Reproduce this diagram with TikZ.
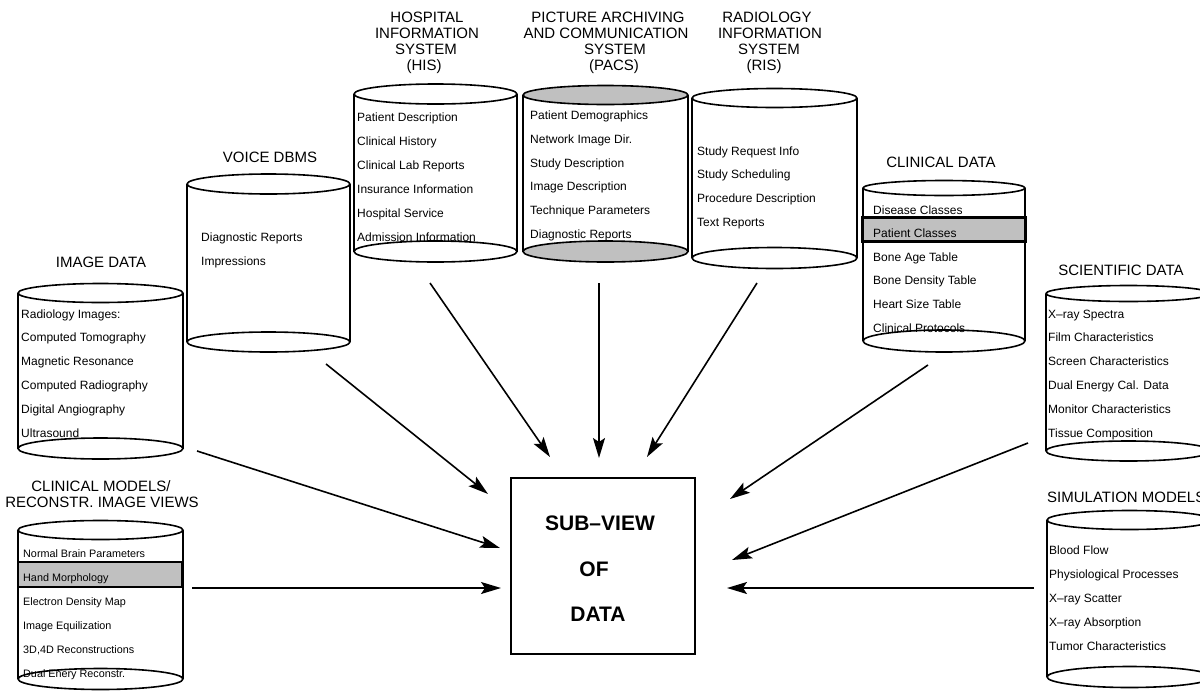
\documentclass[tikz,border=0pt]{standalone}
\usepackage{fontspec}
\setmainfont{Liberation Sans}
\usetikzlibrary{arrows.meta}

\definecolor{capgray}{RGB}{192,192,192}

\tikzset{
  outline/.style={line width=1.6pt, line join=round},
  item/.style={anchor=base west, inner sep=0pt, font=\fontsize{12}{14}\selectfont},
  smallitem/.style={item, font=\fontsize{10.8}{13}\selectfont},
  title/.style={anchor=base, inner sep=0pt, font=\fontsize{15}{17}\selectfont},
  boxtext/.style={anchor=base, inner sep=0pt, font=\fontsize{21}{24}\selectfont\bfseries},
  feed/.style={line width=1.6pt, -{Stealth[length=20pt,width=12pt,inset=4pt]}},
  rowmark/.style={fill=capgray, draw=black},
}

% #1 name, #2 left x, #3 right x, #4 top cap centre y, #5 bottom cap centre y,
% #6 top cap y radius, #7 bottom cap y radius, #8 cap fill
\newcommand\dbcyl[8]{%
  \pgfmathsetmacro\cylcx{(#2+#3)/2}%
  \pgfmathsetmacro\cylrx{(#3-#2)/2}%
  \fill[white] (#2,#4) rectangle (#3,#5);
  \draw[outline, fill=#8] (\cylcx,#5) ellipse [x radius=\cylrx, y radius=#7];
  \draw[outline] (#2,#4) -- (#2,#5) (#3,#4) -- (#3,#5);
  \draw[outline, fill=#8] (\cylcx,#4) ellipse [x radius=\cylrx, y radius=#6];
  \coordinate (#1) at (\cylcx,{(#4+#5)/2});
}

% #1 style, #2 name prefix, #3 left x, #4 first baseline, #5 line step, #6 entries
\newcommand\dbitems[6]{%
  \foreach \entry [count=\k from 0] in {#6} {
    \node[#1] (#2-\k) at (#3,{#4+\k*#5}) {\entry};
  }
}

\begin{document}
\begin{tikzpicture}[x=1pt, y=-1pt]
\useasboundingbox (0,0) rectangle (1200,694);
\clip (0,0) rectangle (1200,694);

% ---------- data stores ----------
\dbcyl{img}{18}{183}{293}{448.5}{9.5}{10.5}{white}
\dbcyl{clm}{18}{183}{530}{679}{9.5}{10.5}{white}
\dbcyl{voice}{187}{350}{184}{342}{10}{10}{white}
\dbcyl{his}{354}{517}{94}{251.5}{10}{10.5}{white}
\dbcyl{pacs}{523}{688}{95}{251.5}{9.5}{10.5}{capgray}
\dbcyl{ris}{692}{857}{98}{258}{9.5}{10.5}{white}
\dbcyl{cld}{863}{1025}{188}{341}{7.5}{11}{white}
\dbcyl{sci}{1046}{1211}{293.5}{451}{8}{10}{white}
\dbcyl{sim}{1047}{1212}{520}{677}{9.5}{10.5}{white}

% highlighted rows
\draw[rowmark, line width=1.4pt] (18,562) rectangle (182,587);
\draw[rowmark, line width=3pt] (862.5,217.5) rectangle (1025,241.5);

% ---------- titles ----------
\node[title] (img-t) at (101,267) {IMAGE DATA};
\node[title] (clm-t1) at (101,491) {CLINICAL MODELS/};
\node[title] (clm-t2) at (102,507) {RECONSTR. IMAGE VIEWS};
\node[title] (voice-t) at (270,162) {VOICE DBMS};
\node[title] (his-t1) at (427,22.5) {HOSPITAL};
\node[title] (his-t2) at (427,38.5) {INFORMATION};
\node[title] (his-t3) at (426,54.5) {SYSTEM};
\node[title] (his-t4) at (424,70) {(HIS)};
\node[title] (pacs-t1) at (608,22.5) {PICTURE ARCHIVING};
\node[title] (pacs-t2) at (606,38.5) {AND COMMUNICATION};
\node[title] (pacs-t3) at (615,54.5) {SYSTEM};
\node[title] (pacs-t4) at (614,70) {(PACS)};
\node[title] (ris-t1) at (767,22.5) {RADIOLOGY};
\node[title] (ris-t2) at (770,38.5) {INFORMATION};
\node[title] (ris-t3) at (769,54.5) {SYSTEM};
\node[title] (ris-t4) at (764,70) {(RIS)};
\node[title] (cld-t) at (941,167) {CLINICAL DATA};
\node[title] (sci-t) at (1121,275) {SCIENTIFIC DATA};
\node[title, anchor=base west] (sim-t) at (1047,502) {SIMULATION MODELS};

% ---------- contents ----------
\dbitems{item}{img}{21}{318}{23.8}{Radiology Images:, Computed Tomography, Magnetic Resonance, Computed Radiography, Digital Angiography, Ultrasound}
\dbitems{smallitem}{clm}{23}{557}{24}{Normal Brain Parameters, Hand Morphology, Electron Density Map, Image Equilization, {3D,4D Reconstructions}, Dual Enery Reconstr.}
\dbitems{item}{voice}{201}{241}{24}{Diagnostic Reports, Impressions}
\dbitems{item}{his}{357}{121.7}{24}{Patient Description, Clinical History, Clinical Lab Reports, Insurance Information, Hospital Service, Admission Information}
\dbitems{item}{pacs}{530}{119.5}{23.8}{Patient Demographics, Network Image Dir., Study Description, Image Description, Technique Parameters, Diagnostic Reports}
\dbitems{item}{ris}{697}{155}{23.8}{Study Request Info, Study Scheduling, Procedure Description, Text Reports}
\dbitems{item}{cld}{873}{214}{23.6}{Disease Classes, Patient Classes, Bone Age Table, Bone Density Table, Heart Size Table, Clinical Protocols}
\dbitems{item}{sci}{1048}{318}{23.8}{X–ray Spectra, Film Characteristics, Screen Characteristics, Dual Energy Cal. Data, Monitor Characteristics, Tissue Composition}
\dbitems{item}{sim}{1049}{554}{24}{Blood Flow, Physiological Processes, X–ray Scatter, X–ray Absorption, Tumor Characteristics}

% ---------- central view ----------
\node[draw, line width=1.6pt, minimum width=184pt, minimum height=176pt, inner sep=0pt] (view) at (603,566) {};
\node[boxtext] (view-l1) at (600,530) {SUB–VIEW};
\node[boxtext] (view-l2) at (594,576) {OF};
\node[boxtext] (view-l3) at (598,621) {DATA};

% ---------- feeds into the view ----------
\coordinate (img-out) at (197,451);   \coordinate (view-img) at (500,548);
\coordinate (clm-out) at (192,588);   \coordinate (view-clm) at (501,588);
\coordinate (voice-out) at (326,364); \coordinate (view-voice) at (488,494);
\coordinate (his-out) at (430,283);   \coordinate (view-his) at (550,457);
\coordinate (pacs-out) at (599,283);  \coordinate (view-pacs) at (599,458);
\coordinate (ris-out) at (757,283);   \coordinate (view-ris) at (647,457);
\coordinate (cld-out) at (928,365);   \coordinate (view-cld) at (730,499);
\coordinate (sci-out) at (1028,443);  \coordinate (view-sci) at (732,560);
\coordinate (sim-out) at (1034,588);  \coordinate (view-sim) at (727,588);

\draw[feed] (img-out) -- (view-img);
\draw[feed] (clm-out) -- (view-clm);
\draw[feed] (voice-out) -- (view-voice);
\draw[feed] (his-out) -- (view-his);
\draw[feed] (pacs-out) -- (view-pacs);
\draw[feed] (ris-out) -- (view-ris);
\draw[feed] (cld-out) -- (view-cld);
\draw[feed] (sci-out) -- (view-sci);
\draw[feed] (sim-out) -- (view-sim);
\end{tikzpicture}
\end{document}
